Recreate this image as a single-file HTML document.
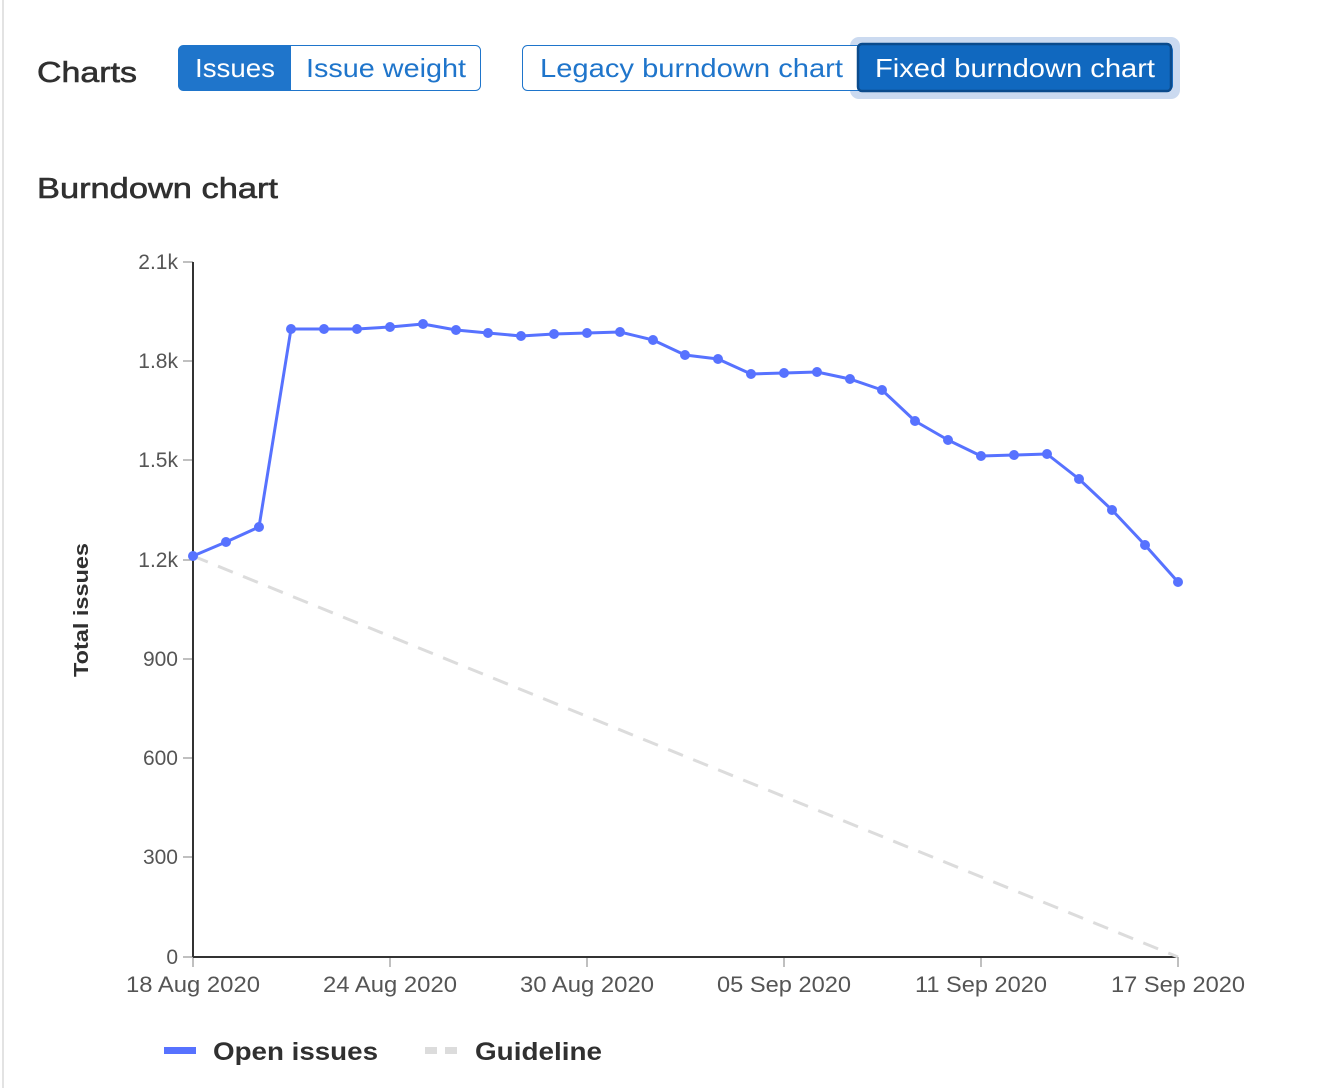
<!DOCTYPE html>
<html><head><meta charset="utf-8"><style>
html,body{margin:0;padding:0;background:#fff;width:1328px;height:1088px;overflow:hidden}
svg{display:block}
</style></head><body>
<svg width="1328" height="1088" xmlns="http://www.w3.org/2000/svg" font-family="Liberation Sans, sans-serif">
<rect x="2" y="0" width="2" height="1088" fill="#e3e3e3"/>
<text x="37" y="82" font-size="29" fill="#303030" stroke="#303030" stroke-width="0.6" textLength="100" lengthAdjust="spacingAndGlyphs">Charts</text>
<!-- group 1 -->
<rect x="178.5" y="45.5" width="302" height="45" rx="5" fill="#fff" stroke="#1f75cb"/>
<path d="M183.5 45.5 H291 V90.5 H183.5 A5 5 0 0 1 178.5 85.5 V50.5 A5 5 0 0 1 183.5 45.5Z" fill="#1f75cb"/>
<text x="195" y="77" font-size="26" fill="#fff" textLength="80" lengthAdjust="spacingAndGlyphs">Issues</text>
<text x="306" y="77" font-size="26" fill="#1f75cb" textLength="160" lengthAdjust="spacingAndGlyphs">Issue weight</text>
<!-- group 2 -->
<rect x="850" y="37" width="330" height="62" rx="9" fill="#cbdaf0"/>
<rect x="522.5" y="45.5" width="650" height="45" rx="5" fill="#fff" stroke="#1f75cb"/>
<rect x="858" y="44" width="313" height="47" rx="4" fill="#1068bf" stroke="#0b4b8c" stroke-width="2.5"/>
<text x="540" y="77" font-size="26" fill="#1f75cb" textLength="303" lengthAdjust="spacingAndGlyphs">Legacy burndown chart</text>
<text x="875" y="77" font-size="26" fill="#fff" textLength="280" lengthAdjust="spacingAndGlyphs">Fixed burndown chart</text>
<text x="37" y="198" font-size="29" fill="#303030" stroke="#303030" stroke-width="0.6" textLength="241" lengthAdjust="spacingAndGlyphs">Burndown chart</text>
<!-- y ticks -->
<g font-size="21" fill="#555" text-anchor="end">
<text x="178" y="269">2.1k</text><text x="178" y="368">1.8k</text><text x="178" y="467">1.5k</text><text x="178" y="567">1.2k</text>
<text x="178" y="666">900</text><text x="178" y="765">600</text><text x="178" y="864">300</text><text x="178" y="964">0</text>
</g>
<g stroke="#aaa" stroke-width="1.5">
<line x1="183" y1="262" x2="193" y2="262"/><line x1="183" y1="361" x2="193" y2="361"/><line x1="183" y1="460" x2="193" y2="460"/><line x1="183" y1="560" x2="193" y2="560"/>
<line x1="183" y1="659" x2="193" y2="659"/><line x1="183" y1="758" x2="193" y2="758"/><line x1="183" y1="857" x2="193" y2="857"/><line x1="183" y1="957" x2="193" y2="957"/>
<line x1="193" y1="957" x2="193" y2="967"/><line x1="390" y1="957" x2="390" y2="967"/><line x1="587" y1="957" x2="587" y2="967"/><line x1="784" y1="957" x2="784" y2="967"/><line x1="981" y1="957" x2="981" y2="967"/><line x1="1178" y1="957" x2="1178" y2="967"/>
</g>
<g font-size="22" fill="#555" text-anchor="middle">
<text x="193" y="992" textLength="134" lengthAdjust="spacingAndGlyphs">18 Aug 2020</text><text x="390" y="992" textLength="134" lengthAdjust="spacingAndGlyphs">24 Aug 2020</text><text x="587" y="992" textLength="134" lengthAdjust="spacingAndGlyphs">30 Aug 2020</text>
<text x="784" y="992" textLength="134" lengthAdjust="spacingAndGlyphs">05 Sep 2020</text><text x="981" y="992" textLength="132" lengthAdjust="spacingAndGlyphs">11 Sep 2020</text><text x="1178" y="992" textLength="134" lengthAdjust="spacingAndGlyphs">17 Sep 2020</text>
</g>
<text transform="translate(88,610) rotate(-90)" font-size="20" font-weight="bold" fill="#303030" text-anchor="middle" textLength="134" lengthAdjust="spacingAndGlyphs">Total issues</text>
<line x1="193" y1="262" x2="193" y2="957" stroke="#333" stroke-width="2"/>
<line x1="193" y1="957" x2="1178" y2="957" stroke="#333" stroke-width="2"/>
<line x1="193" y1="556" x2="1178" y2="957" stroke="#dcdcdc" stroke-width="3" stroke-dasharray="16,11"/>
<polyline fill="none" stroke="#5772ff" stroke-width="3" stroke-linejoin="round" points="193,556 226,542 259,527 291,329 324,329 357,329 390,327 423,324 456,330 488,333 521,336 554,334 587,333 620,332 653,340 685,355 718,359 751,374 784,373 817,372 850,379 882,390 915,421 948,440 981,456 1014,455 1047,454 1079,479 1112,510 1145,545 1178,582"/>
<g fill="#5772ff">
<circle cx="193" cy="556" r="5"/><circle cx="226" cy="542" r="5"/><circle cx="259" cy="527" r="5"/><circle cx="291" cy="329" r="5"/><circle cx="324" cy="329" r="5"/><circle cx="357" cy="329" r="5"/><circle cx="390" cy="327" r="5"/><circle cx="423" cy="324" r="5"/><circle cx="456" cy="330" r="5"/><circle cx="488" cy="333" r="5"/><circle cx="521" cy="336" r="5"/><circle cx="554" cy="334" r="5"/><circle cx="587" cy="333" r="5"/><circle cx="620" cy="332" r="5"/><circle cx="653" cy="340" r="5"/><circle cx="685" cy="355" r="5"/><circle cx="718" cy="359" r="5"/><circle cx="751" cy="374" r="5"/><circle cx="784" cy="373" r="5"/><circle cx="817" cy="372" r="5"/><circle cx="850" cy="379" r="5"/><circle cx="882" cy="390" r="5"/><circle cx="915" cy="421" r="5"/><circle cx="948" cy="440" r="5"/><circle cx="981" cy="456" r="5"/><circle cx="1014" cy="455" r="5"/><circle cx="1047" cy="454" r="5"/><circle cx="1079" cy="479" r="5"/><circle cx="1112" cy="510" r="5"/><circle cx="1145" cy="545" r="5"/><circle cx="1178" cy="582" r="5"/>
</g>
<rect x="164" y="1047" width="32" height="7" fill="#5772ff"/>
<text x="213" y="1060" font-size="25" font-weight="bold" fill="#303030" textLength="165" lengthAdjust="spacingAndGlyphs">Open issues</text>
<rect x="425" y="1047" width="12" height="7" fill="#dcdcdc"/><rect x="445" y="1047" width="12" height="7" fill="#dcdcdc"/>
<text x="475" y="1060" font-size="25" font-weight="bold" fill="#303030" textLength="127" lengthAdjust="spacingAndGlyphs">Guideline</text>
</svg>
</body></html>
